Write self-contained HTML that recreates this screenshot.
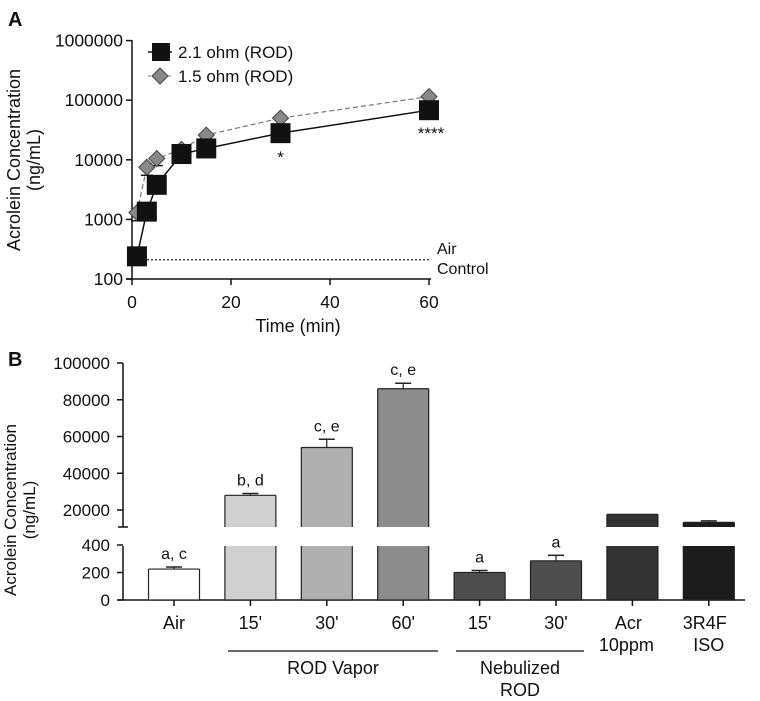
<!DOCTYPE html>
<html><head><meta charset="utf-8"><style>
body{margin:0;background:#fff;}
svg{display:block;font-family:"Liberation Sans",Arial,sans-serif;}
.n{font-family:"Liberation Sans Narrow","Liberation Sans",sans-serif;}
</style></head><body>
<svg id="c" width="760" height="701" viewBox="0 0 760 701" xmlns="http://www.w3.org/2000/svg"></svg>
<script>
// Panel A data
const times=[1,3,5,10,15,30,60];
const s21=[240,1350,3800,12500,15500,28000,68000];
const s21err=[0,0,0,3500,0,8000,0];
const s15=[1300,7500,10500,15000,26000,50000,115000];
const s15err=[350,2000,2500,0,0,0,0];
const airControl=210;
const aTicksY=[100,1000,10000,100000,1000000];
const aTicksX=[0,20,40,60];
// Panel B data
const cats=["Air","15'","30'","60'","15'","30'","Acr","3R4F"];
const cats2=["","","","","","","10ppm","ISO"];
const vals=[225,28000,54000,86000,200,285,17600,13300];
const errs=[15,1000,4500,3000,15,40,0,800];
const sig=["a, c","b, d","c, e","c, e","a","a","",""];
const upTicks=[20000,40000,60000,80000,100000];
const lowTicks=[0,200,400];
const colors=["#ffffff","#d0d0d0","#b0b0b0","#8c8c8c","#4e4e4e","#4e4e4e","#333333","#1c1c1c"];

const svg=document.getElementById('c');
const NS="http://www.w3.org/2000/svg";
function mk(tag,attrs,parent){const e=document.createElementNS(NS,tag);for(const k in attrs)e.setAttribute(k,attrs[k]);(parent||svg).appendChild(e);return e;}
function tx(x,y,s,size,anchor,cls){const e=mk('text',{x:x,y:y,'font-size':size,'text-anchor':anchor||'middle',fill:'#111'});if(cls)e.setAttribute('class',cls);e.textContent=s;return e;}

// ---- Panel A ----
const ax=t=>132+t*4.95;
const ay=v=>279-(Math.log10(v)-2)*59.6;
let t=tx(8,26,'A',20,'start');t.setAttribute('font-weight','bold');


let l=mk('line',{x1:132,y1:40,x2:132,y2:279,stroke:'#111','stroke-width':1.5});


l=mk('line',{x1:126,y1:279,x2:431,y2:279,stroke:'#111','stroke-width':1.5});


aTicksY.forEach(v=>{mk('line',{x1:126,y1:ay(v),x2:132,y2:ay(v),stroke:'#111','stroke-width':1.5});
 const e=tx(123,ay(v)+6,String(v),17.5,'end');
 
 });
aTicksX.forEach(v=>{mk('line',{x1:ax(v),y1:279,x2:ax(v),y2:285,stroke:'#111','stroke-width':1.5});
 const e=tx(ax(v),308,String(v),17.5);
 
 });
t=tx(298,332,'Time (min)',18);


let g=mk('g',{transform:'translate(20,160) rotate(-90)'});


tx(0,0,'Acrolein Concentration',18);g.appendChild(svg.lastChild);
tx(0,20,'(ng/mL)',18);g.appendChild(svg.lastChild);
// air control
l=mk('line',{x1:135,y1:ay(airControl),x2:430,y2:ay(airControl),stroke:'#111','stroke-width':1.2,'stroke-dasharray':'2,2'});


t=tx(437,254,'Air',16,'start');
tx(437,274,'Control',16,'start');
// 1.5 ohm series
let p=mk('polyline',{points:times.map((d,i)=>ax(d)+','+ay(s15[i])).join(' '),fill:'none',stroke:'#777','stroke-width':1.2,'stroke-dasharray':'5,3'});


p=mk('polyline',{points:times.map((d,i)=>ax(d)+','+ay(s21[i])).join(' '),fill:'none',stroke:'#111','stroke-width':1.5});


times.forEach((d,i)=>{if(s15err[i]){const x=ax(d),y2=ay(s15[i]-s15err[i]);mk('line',{x1:x,y1:ay(s15[i]),x2:x,y2:y2,stroke:'#111'});mk('line',{x1:x-6,y1:y2,x2:x+6,y2:y2,stroke:'#111','stroke-width':1.5});}
 if(s21err[i]){const x=ax(d),y2=ay(s21[i]-s21err[i]);mk('line',{x1:x,y1:ay(s21[i]),x2:x,y2:y2,stroke:'#111'});mk('line',{x1:x-6,y1:y2,x2:x+6,y2:y2,stroke:'#111','stroke-width':1.5});}});
times.forEach((d,i)=>{const x=ax(d),y=ay(s15[i]);
 const e=mk('polygon',{points:`${x},${y-8} ${x+8},${y} ${x},${y+8} ${x-8},${y}`,fill:'#888',stroke:'#444','stroke-width':1});
 
 });
times.forEach((d,i)=>{const x=ax(d),y=ay(s21[i]);
 const e=mk('rect',{x:x-10,y:y-10,width:20,height:20,fill:'#111'});
 
 });
t=tx(ax(30),163,'*',17);
t=tx(ax(60)+2,139,'****',17);
// legend
g=mk('g',{});
mk('line',{x1:148,y1:52,x2:172,y2:52,stroke:'#111','stroke-width':1.5},g);
mk('rect',{x:152,y:43,width:18,height:18,fill:'#111'},g);
mk('line',{x1:148,y1:76,x2:172,y2:76,stroke:'#777','stroke-dasharray':'3,2'},g);
mk('polygon',{points:'160,68 168,76 160,84 152,76',fill:'#888',stroke:'#444'},g);
tx(178,58,'2.1 ohm (ROD)',17,'start');g.appendChild(svg.lastChild);
tx(178,82,'1.5 ohm (ROD)',17,'start');g.appendChild(svg.lastChild);

// ---- Panel B ----
t=tx(8,366,'B',20,'start');t.setAttribute('font-weight','bold');

const upY=v=>510-(v-20000)*36.75/20000;
const lowY=v=>600-v*0.1375;
const upBottom=527, lowTop=546;
const bx=i=>174+i*76.4;
l=mk('line',{x1:123,y1:363,x2:123,y2:upBottom,stroke:'#111','stroke-width':1.5});

mk('line',{x1:118,y1:upBottom,x2:128,y2:upBottom,stroke:'#111','stroke-width':1.5});
l=mk('line',{x1:123,y1:lowTop,x2:123,y2:600,stroke:'#111','stroke-width':1.5});

l=mk('line',{x1:118,y1:600,x2:745,y2:600,stroke:'#111','stroke-width':1.5});

upTicks.forEach(v=>{mk('line',{x1:117,y1:upY(v),x2:123,y2:upY(v),stroke:'#111','stroke-width':1.5});
 const e=tx(110,upY(v)+6,String(v),17,'end');
 });
lowTicks.forEach(v=>{mk('line',{x1:117,y1:lowY(v),x2:123,y2:lowY(v),stroke:'#111','stroke-width':1.5});
 const e=tx(110,lowY(v)+6,String(v),17,'end');
 });
g=mk('g',{transform:'translate(16,510) rotate(-90)'});

tx(0,0,'Acrolein Concentration',17);g.appendChild(svg.lastChild);
tx(0,19,'(ng/mL)',17);g.appendChild(svg.lastChild);
function openBar(x,y1,y2,w,c,grp,top,bottom){
 mk('rect',{x:x,y:y1,width:w,height:y2-y1,fill:c},grp);
 mk('line',{x1:x,y1:y1,x2:x,y2:y2,stroke:'#222','stroke-width':1.2},grp);
 mk('line',{x1:x+w,y1:y1,x2:x+w,y2:y2,stroke:'#222','stroke-width':1.2},grp);
 if(top)mk('line',{x1:x,y1:y1,x2:x+w,y2:y1,stroke:'#222','stroke-width':1.2},grp);
 if(bottom)mk('line',{x1:x,y1:y2,x2:x+w,y2:y2,stroke:'#222','stroke-width':1.2},grp);
}
vals.forEach((v,i)=>{const x=bx(i)-25.5,w=51,c=colors[i];
 const grp=mk('g',{});
 
 
 let topY;
 if(v>400){topY=upY(v);
  openBar(x,topY,upBottom,w,c,grp,true,false);
  openBar(x,lowTop,600,w,c,grp,false,true);
  if(errs[i]){const ey=upY(v+errs[i]);mk('line',{x1:bx(i),y1:topY,x2:bx(i),y2:ey,stroke:'#222','stroke-width':1.2},grp);mk('line',{x1:bx(i)-8,y1:ey,x2:bx(i)+8,y2:ey,stroke:'#222','stroke-width':1.5},grp);topY=ey;}
 }else{topY=lowY(v);
  openBar(x,topY,600,w,c,grp,true,true);
  if(errs[i]){const ey=lowY(v+errs[i]);mk('line',{x1:bx(i),y1:topY,x2:bx(i),y2:ey,stroke:'#222','stroke-width':1.2},grp);mk('line',{x1:bx(i)-8,y1:ey,x2:bx(i)+8,y2:ey,stroke:'#222','stroke-width':1.5},grp);topY=ey;}
 }
 if(sig[i]){const e=tx(bx(i),topY-8,sig[i],16,'middle','n');}
 mk('line',{x1:bx(i),y1:600,x2:bx(i),y2:606,stroke:'#111','stroke-width':1.5});
 let e=tx(bx(i)-(i>=6?4:0),629,cats[i],18,'middle','n');
 if(cats2[i]){e=tx(bx(i)-(i===6?6:0),651,cats2[i],18,'middle','n');}
});
l=mk('line',{x1:228,y1:651,x2:438,y2:651,stroke:'#111','stroke-width':1.2});

l=mk('line',{x1:456,y1:651,x2:584,y2:651,stroke:'#111','stroke-width':1.2});

t=tx(333,674,'ROD Vapor',18,'middle','n');
t=tx(520,674,'Nebulized',18,'middle','n');
tx(520,696,'ROD',18,'middle','n');
</script>
</body></html>
